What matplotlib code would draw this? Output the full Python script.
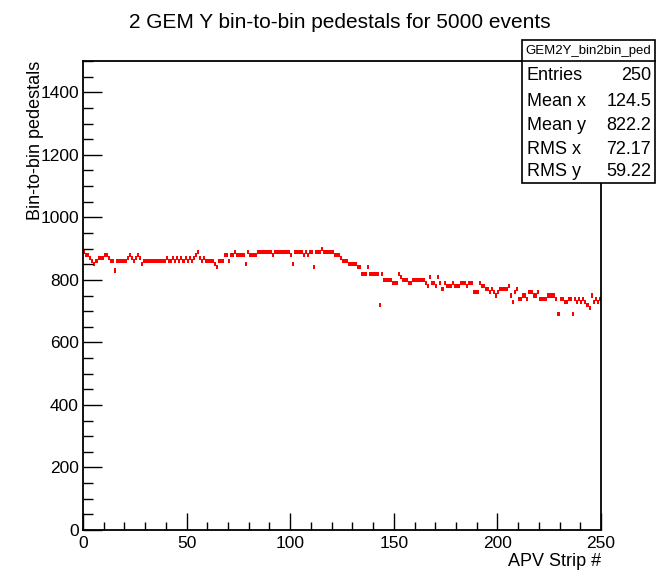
import numpy as np
import matplotlib
matplotlib.use("Agg")
import matplotlib.pyplot as plt
from matplotlib.patches import Rectangle
from matplotlib.ticker import MultipleLocator

plt.rcParams['font.family'] = ['Liberation Sans', 'DejaVu Sans']

# Bin-to-bin pedestal per APV strip (GEM 2, Y plane)
strips = np.arange(250)
pedestals = np.array([
    890, 880, 880, 870, 860, 850, 860, 870, 870, 870,
    880, 880, 870, 860, 860, 830, 860, 860, 860, 860,
    860, 870, 880, 870, 860, 870, 880, 870, 850, 860,
    860, 860, 860, 860, 860, 860, 860, 860, 860, 860,
    870, 860, 860, 870, 860, 870, 860, 870, 860, 870,
    860, 870, 860, 870, 880, 890, 870, 860, 870, 860,
    860, 860, 860, 850, 840, 860, 860, 860, 880, 880,
    860, 880, 880, 890, 880, 880, 880, 880, 850, 890,
    880, 880, 880, 880, 890, 890, 890, 890, 890, 890,
    890, 880, 890, 890, 890, 890, 890, 890, 890, 890,
    880, 850, 890, 890, 890, 890, 880, 890, 880, 890,
    890, 840, 890, 890, 890, 900, 890, 890, 890, 890,
    890, 880, 880, 880, 870, 860, 860, 860, 850, 850,
    850, 850, 840, 840, 820, 820, 820, 840, 820, 820,
    820, 820, 820, 720, 820, 800, 800, 800, 800, 790,
    790, 790, 820, 810, 800, 800, 800, 790, 790, 800,
    800, 800, 800, 800, 800, 790, 780, 810, 790, 790,
    780, 810, 790, 770, 790, 780, 780, 780, 790, 780,
    780, 780, 790, 790, 790, 780, 790, 790, 760, 760,
    760, 790, 780, 780, 770, 770, 760, 770, 760, 750,
    760, 770, 770, 770, 770, 780, 750, 730, 760, 770,
    740, 740, 750, 750, 740, 760, 760, 750, 750, 760,
    740, 740, 740, 740, 750, 750, 750, 750, 740, 690,
    740, 740, 730, 730, 740, 740, 690, 740, 730, 740,
    730, 740, 730, 720, 710, 750, 730, 740, 730, 740,
])

stat_labels = ["Entries", "Mean x", "Mean y", "RMS x", "RMS y"]
stat_values = ["250", "124.5", "822.2", "72.17", "59.22"]

W, H = 658, 570
fig = plt.figure(figsize=(W / 100, H / 100), dpi=100)
fig.patch.set_facecolor('white')

ax = fig.add_axes([83 / W, 1 - 530 / H, (601 - 83) / W, (530 - 61) / H])

bin_h = 13
ax.bar(strips, bin_h, bottom=pedestals - bin_h / 2, width=1.0, align='edge',
       color='#ff0000', edgecolor='none')

ax.set_xlim(0, 250)
ax.set_ylim(0, 1500)

ax.xaxis.set_major_locator(MultipleLocator(50))
ax.xaxis.set_minor_locator(MultipleLocator(10))
ax.yaxis.set_major_locator(MultipleLocator(200))
ax.yaxis.set_minor_locator(MultipleLocator(50))

ax.tick_params(axis='both', which='both', direction='in', top=False, right=False,
               labelsize=12.5, width=1, color='black')
ax.tick_params(axis='x', which='major', length=12, pad=4)
ax.tick_params(axis='x', which='minor', length=6)
ax.tick_params(axis='y', which='major', length=14, pad=3)
ax.tick_params(axis='y', which='minor', length=7)
for s in ax.spines.values():
    s.set_linewidth(1.3)

ax.set_xlabel("APV Strip #", fontsize=13, loc='right', labelpad=2)
ax.set_ylabel("Bin-to-bin pedestals", fontsize=13, loc='top')
ax.yaxis.set_label_coords((44 - 83) / (601 - 83), 1.0)

fig.text(340 / W, 1 - 22 / H, "2 GEM Y bin-to-bin pedestals for 5000 events",
         ha='center', va='center', fontsize=15)

# statistics box
bx0, bx1 = 522 / W, 655 / W
by_top, by_bot = 1 - 40 / H, 1 - 183 / H
by_sep = 1 - 61 / H
fig.patches.append(Rectangle((bx0, by_bot), bx1 - bx0, by_top - by_bot,
                             transform=fig.transFigure, facecolor='white',
                             edgecolor='black', linewidth=1.2, zorder=5))
fig.lines.append(plt.Line2D([bx0, bx1], [by_sep, by_sep], transform=fig.transFigure,
                            color='black', linewidth=1.2, zorder=6))
fig.text((bx0 + bx1) / 2, 1 - 51 / H, "GEM2Y_bin2bin_ped", ha='center', va='center',
         fontsize=9.5, zorder=7)
rows_y = [75, 101, 126, 150, 172]
for lab, val, ry in zip(stat_labels, stat_values, rows_y):
    fig.text(527 / W, 1 - ry / H, lab, ha='left', va='center', fontsize=13, zorder=7)
    fig.text(651 / W, 1 - ry / H, val, ha='right', va='center', fontsize=13, zorder=7)

fig.savefig("out.png", dpi=100)
